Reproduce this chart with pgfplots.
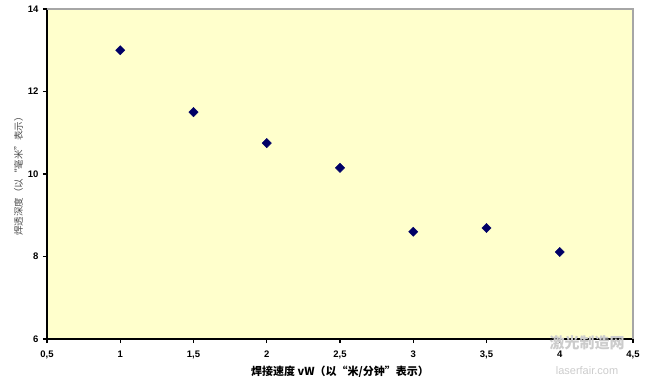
\documentclass[border=0pt]{standalone}
\usepackage{fontspec}
\setmainfont{Liberation Sans}
\newfontfamily\cjk{Noto Sans CJK SC}
\usepackage{pgfplots}
\pgfplotsset{compat=1.18}
\definecolor{bgy}{HTML}{FFFFCC}
\definecolor{mk}{HTML}{000066}
\begin{document}
\begin{tikzpicture}[x=1pt,y=1pt]
\useasboundingbox (-47,-44) rectangle (601,339);
\begin{axis}[
  at={(0,0)}, anchor=south west,
  scale only axis, width=586pt, height=330pt,
  xmin=0.5, xmax=4.5, ymin=6, ymax=14,
  xtick={0.5,1,...,4.5}, ytick={6,8,...,14},
  axis background/.style={fill=bgy},
  axis x line*=bottom, axis y line*=left,
  axis line style={black, line width=1.4pt, -},
  tick style={black, line width=1.2pt},
  tick align=outside, major tick length=4pt,
  /pgf/number format/assume math mode=true,
  /pgf/number format/use comma,
  ticklabel style={font=\fontsize{9.5}{10}\selectfont\bfseries},
  xticklabel style={yshift=-4pt},
  yticklabel style={xshift=-1pt},
  xlabel={\cjk\fontsize{11}{12}\selectfont\bfseries 焊接速度 vW（以“米/分钟”表示）},
  xlabel style={yshift=0pt},
  ylabel={\cjk\fontsize{9.5}{10}\selectfont 焊透深度（以“毫米”表示）},
  ylabel style={yshift=-2pt, text=black!70},
  clip=false,
]
\draw[gray!70, line width=1.2pt] (axis cs:0.5,14) -- (axis cs:4.5,14) -- (axis cs:4.5,6);
\addplot[only marks, mark=square*, mark size=3.3pt, mk, mark options={fill=mk, draw=mk, rotate=45}]
coordinates {(1,13.0) (1.5,11.5) (2,10.75) (2.5,10.15) (3,8.6) (3.5,8.69) (4,8.11)};
\end{axis}
\node[text=gray!40, font=\cjk\fontsize{15}{15}\selectfont\bfseries] at (540,-4) {激光制造网};
\node[text=gray!40, font=\fontsize{11}{11}\selectfont] at (540,-32) {laserfair.com};
\end{tikzpicture}
\end{document}
